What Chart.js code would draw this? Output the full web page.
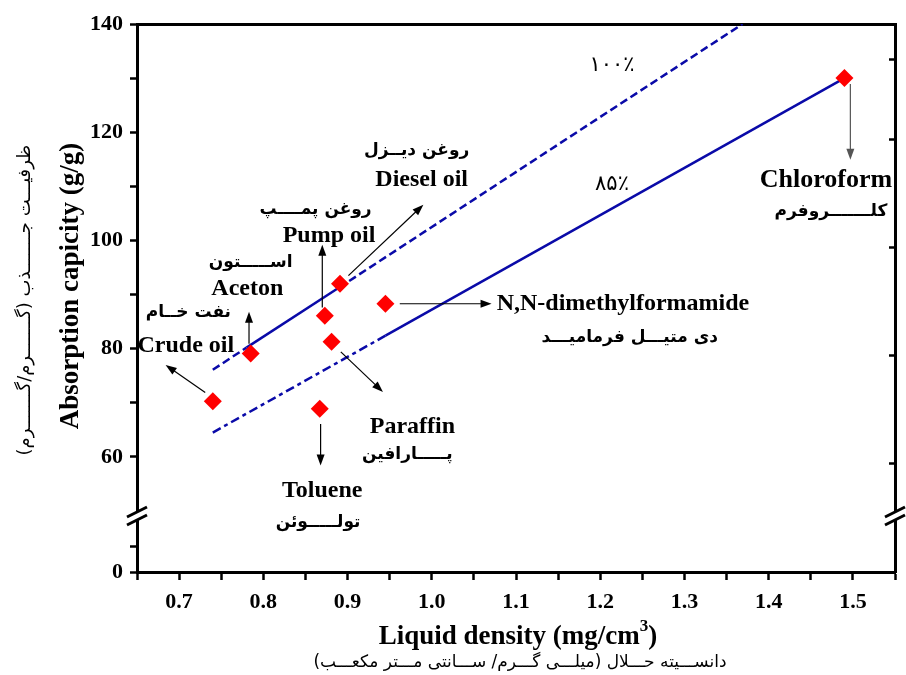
<!DOCTYPE html>
<html>
<head>
<meta charset="utf-8">
<script src="https://cdn.jsdelivr.net/npm/chart.js@4.4.1/dist/chart.umd.min.js"></script>
<style>
  html, body { margin: 0; padding: 0; background: #fff; }
  #wrap { width: 906px; height: 675px; }
</style>
</head>
<body>
<div id="wrap"><canvas id="myChart"></canvas></div>
<script>
// measured liquids
const liquids = ['Crude oil', 'Aceton', 'Pump oil', 'Diesel oil', 'Paraffin', 'Toluene', 'N,N-dimethylformamide', 'Chloroform'];
const density = [0.740, 0.785, 0.873, 0.891, 0.881, 0.867, 0.945, 1.490];
const capacity = [70.3, 79.1, 86.1, 92.0, 81.3, 68.9, 88.3, 130.0];

// 100% and 85% reference lines
const line100Density = [0.740, 0.780, 0.890, 1.369];
const line100Capacity = [76.1, 80.2, 91.3, 140.0];
const line85Density = [0.740, 0.945, 1.490];
const line85Capacity = [64.5, 82.4, 130.0];

// ticks
const xMajor = [0.7, 0.8, 0.9, 1.0, 1.1, 1.2, 1.3, 1.4, 1.5];
const xMinor = [0.65, 0.75, 0.85, 0.95, 1.05, 1.15, 1.25, 1.35, 1.45, 1.55];
const yTopMajor = [60, 80, 100, 120, 140];
const yTopMinor = [70, 90, 110, 130];
const yBotMajor = [0];
const yBotMinor = [10];

const serif = '"Liberation Serif", "Times New Roman", serif';
const fa = '"DejaVu Sans", sans-serif';
const BLUE = '#0a0aa8';

// annotation arrows / labels, in data units (density, capacity)
const arrows = [
  { from: [0.731, 71.9], to: [0.684, 77.0] },
  { from: [0.783, 80.9], to: [0.783, 86.8] },
  { from: [0.870, 87.6], to: [0.870, 99.2] },
  { from: [0.901, 93.5], to: [0.990, 106.6] },
  { from: [0.962, 88.3], to: [1.071, 88.3] },
  { from: [0.892, 79.4], to: [0.942, 72.0] },
  { from: [0.868, 66.1], to: [0.868, 58.4] },
  { from: [1.497, 128.9], to: [1.497, 114.9], color: '#555' }
];
const labels = [
  { t: 'نفت خــام', at: [0.711, 86.6], fa: true },
  { t: 'Crude oil', at: [0.708, 80.5] },
  { t: 'اســـــتون', at: [0.785, 96.0], fa: true },
  { t: 'Aceton', at: [0.781, 91.1] },
  { t: 'روغن پمــــپ', at: [0.862, 105.7], fa: true },
  { t: 'Pump oil', at: [0.878, 100.8] },
  { t: 'روغن دیــزل', at: [0.982, 116.7], fa: true },
  { t: 'Diesel oil', at: [0.988, 111.2] },
  { t: 'N,N-dimethylformamide', at: [1.077, 88.3], align: 'left' },
  { t: 'دی متیـــل فرمامیـــد', at: [1.235, 82.0], fa: true },
  { t: 'Paraffin', at: [0.977, 65.6] },
  { t: 'پـــــارافین', at: [0.971, 60.4], fa: true },
  { t: 'Toluene', at: [0.870, 53.8] },
  { t: 'تولـــــوئن', at: [0.865, 47.8], fa: true },
  { t: 'Chloroform', at: [1.468, 111.2], size: 26 },
  { t: 'کلـــــــروفرم', at: [1.474, 105.3], fa: true },
  { t: '۱۰۰٪', at: [1.214, 132.4], fa: true, plain: true },
  { t: '۸۵٪', at: [1.214, 110.3], fa: true, plain: true }
];

function drawArrow(ctx, x1, y1, x2, y2, color) {
  const a = Math.atan2(y2 - y1, x2 - x1), L = 11, W = 4;
  ctx.strokeStyle = color; ctx.fillStyle = color; ctx.lineWidth = 1.2;
  ctx.beginPath();
  ctx.moveTo(x1, y1);
  ctx.lineTo(x2 - L * 0.8 * Math.cos(a), y2 - L * 0.8 * Math.sin(a));
  ctx.stroke();
  ctx.beginPath();
  ctx.moveTo(x2, y2);
  ctx.lineTo(x2 - L * Math.cos(a) + W * Math.sin(a), y2 - L * Math.sin(a) - W * Math.cos(a));
  ctx.lineTo(x2 - L * Math.cos(a) - W * Math.sin(a), y2 - L * Math.sin(a) + W * Math.cos(a));
  ctx.closePath();
  ctx.fill();
}

const annotationPlugin = {
  id: 'notes',
  afterDatasetsDraw(chart) {
    const ctx = chart.ctx, xs = chart.scales.x, ys = chart.scales.yTop;
    ctx.save();
    arrows.forEach(a => {
      drawArrow(ctx, xs.getPixelForValue(a.from[0]), ys.getPixelForValue(a.from[1]),
        xs.getPixelForValue(a.to[0]), ys.getPixelForValue(a.to[1]), a.color || '#000');
    });
    ctx.fillStyle = '#000';
    ctx.textBaseline = 'middle';
    labels.forEach(l => {
      if (l.fa) ctx.font = l.plain ? '21px ' + fa : 'bold 17px ' + fa;
      else ctx.font = 'bold ' + (l.size || 24) + 'px ' + serif;
      ctx.direction = l.fa ? 'rtl' : 'ltr';
      ctx.textAlign = l.align || 'center';
      ctx.fillText(l.t, xs.getPixelForValue(l.at[0]), ys.getPixelForValue(l.at[1]));
    });
    ctx.restore();
  }
};

const framePlugin = {
  id: 'frame',
  afterDraw(chart) {
    const ctx = chart.ctx, area = chart.chartArea;
    const yb = chart.scales.yTop.bottom + 5;
    ctx.save();
    // axis breaks
    [area.left, area.right].forEach(x => {
      ctx.fillStyle = '#fff';
      ctx.fillRect(x - 3, yb - 4, 6, 8);
      ctx.strokeStyle = '#000';
      ctx.lineWidth = 3;
      ctx.beginPath();
      ctx.moveTo(x - 10, yb + 1); ctx.lineTo(x + 10, yb - 9);
      ctx.moveTo(x - 10, yb + 9); ctx.lineTo(x + 10, yb - 1);
      ctx.stroke();
    });
    // axis titles
    ctx.fillStyle = '#000';
    ctx.textBaseline = 'alphabetic';
    ctx.direction = 'ltr';
    const main = 'Liquid density (mg/cm';
    ctx.font = 'bold 27px ' + serif;
    const w1 = ctx.measureText(main).width;
    const w2 = ctx.measureText(')').width;
    ctx.font = 'bold 17px ' + serif;
    const w3 = ctx.measureText('3').width;
    let x0 = 518 - (w1 + w2 + w3) / 2;
    ctx.textAlign = 'left';
    ctx.font = 'bold 27px ' + serif;
    ctx.fillText(main, x0, 644);
    ctx.font = 'bold 17px ' + serif;
    ctx.fillText('3', x0 + w1, 631);
    ctx.font = 'bold 27px ' + serif;
    ctx.fillText(')', x0 + w1 + w3, 644);

    ctx.textAlign = 'center';
    ctx.direction = 'rtl';
    ctx.font = '17px ' + fa;
    ctx.fillText('دانســـیته حـــلال (میلـــی گـــرم/ ســـانتی مـــتر مکعـــب)', 520, 667);

    ctx.save();
    ctx.translate(71, 286);
    ctx.rotate(-Math.PI / 2);
    ctx.direction = 'ltr';
    ctx.textBaseline = 'middle';
    ctx.font = 'bold 27px ' + serif;
    ctx.fillText('Absorption capicity (g/g)', 0, 0);
    ctx.restore();

    ctx.save();
    ctx.translate(25, 300);
    ctx.rotate(-Math.PI / 2);
    ctx.direction = 'rtl';
    ctx.textBaseline = 'middle';
    ctx.font = '18px ' + fa;
    ctx.fillText('ظرفیـــت جـــــــذب (گـــــــرم/گـــــــرم)', 0, 0);
    ctx.restore();
    ctx.restore();
  }
};

const tickFont = { family: serif, size: 22, weight: 'bold' };
const axisBorder = { display: true, width: 3, color: '#000' };

function yAxis(pos, weight, min, max, major, minor, stackWeight, showLabels) {
  return {
    type: 'linear', position: pos, stack: pos, weight: weight, stackWeight: stackWeight,
    min: min, max: max,
    afterBuildTicks: s => {
      const list = showLabels ? major.concat(minor) : minor;
      s.ticks = list.sort((a, b) => a - b).map(v => ({ value: v }));
    },
    afterFit: s => { s.width = pos === 'left' ? 137 : 0; },
    border: axisBorder,
    grid: { drawOnChartArea: false, color: '#000', tickLength: pos === 'left' ? 7 : -6, tickWidth: 2.5 },
    ticks: {
      display: showLabels, color: '#000', font: tickFont, padding: 7,
      callback: v => (major.includes(v) ? String(v) : '')
    }
  };
}

new Chart(document.getElementById('myChart'), {
  type: 'scatter',
  data: {
    datasets: [
      {
        label: 'liquids',
        data: density.map((d, i) => ({ x: d, y: capacity[i] })),
        yAxisID: 'yTop',
        pointStyle: 'rectRot',
        pointRadius: 9,
        backgroundColor: '#ff0000',
        borderColor: '#ff0000',
        borderWidth: 0,
        order: 0
      },
      {
        type: 'line',
        label: '100%',
        data: line100Density.map((d, i) => ({ x: d, y: line100Capacity[i] })),
        yAxisID: 'yTop',
        borderColor: BLUE,
        borderWidth: 2.5,
        pointRadius: 0,
        fill: false,
        segment: { borderDash: c => (c.p0DataIndex === 1 ? undefined : [8, 4]) },
        order: 1
      },
      {
        type: 'line',
        label: '85%',
        data: line85Density.map((d, i) => ({ x: d, y: line85Capacity[i] })),
        yAxisID: 'yTop',
        borderColor: BLUE,
        borderWidth: 2.5,
        pointRadius: 0,
        fill: false,
        segment: { borderDash: c => (c.p0DataIndex === 0 ? [9, 4, 4, 4] : undefined) },
        order: 1
      }
    ]
  },
  options: {
    responsive: true,
    maintainAspectRatio: false,
    animation: false,
    devicePixelRatio: 1,
    layout: { padding: { left: 0, top: 24, right: 11, bottom: 0 } },
    plugins: { legend: { display: false }, tooltip: { enabled: false } },
    scales: {
      x: {
        type: 'linear', position: 'bottom', min: 0.65, max: 1.55,
        afterBuildTicks: s => {
          s.ticks = xMajor.concat(xMinor).sort((a, b) => a - b).map(v => ({ value: v }));
        },
        afterFit: s => { s.height = 103; },
        border: axisBorder,
        grid: { drawOnChartArea: false, color: '#000', tickLength: 8, tickWidth: 2.5 },
        ticks: {
          color: '#000', font: tickFont, padding: 9, maxRotation: 0, autoSkip: false,
          callback: v => (xMajor.some(m => Math.abs(m - v) < 1e-6) ? v.toFixed(1) : '')
        }
      },
      xTop: {
        type: 'linear', position: 'top', min: 0.65, max: 1.55,
        afterFit: s => { s.height = 0; },
        border: axisBorder,
        grid: { drawOnChartArea: false, drawTicks: false },
        ticks: { display: false }
      },
      yTop: yAxis('left', 1, 50, 140, yTopMajor, yTopMinor, 487, true),
      yBot: yAxis('left', 0, 0, 24, yBotMajor, yBotMinor, 61, true),
      yTopR: yAxis('right', 1, 50, 140, yTopMajor, yTopMinor, 487, false),
      yBotR: yAxis('right', 0, 0, 24, yBotMajor, yBotMinor, 61, false)
    }
  },
  plugins: [annotationPlugin, framePlugin]
});
</script>
</body>
</html>
